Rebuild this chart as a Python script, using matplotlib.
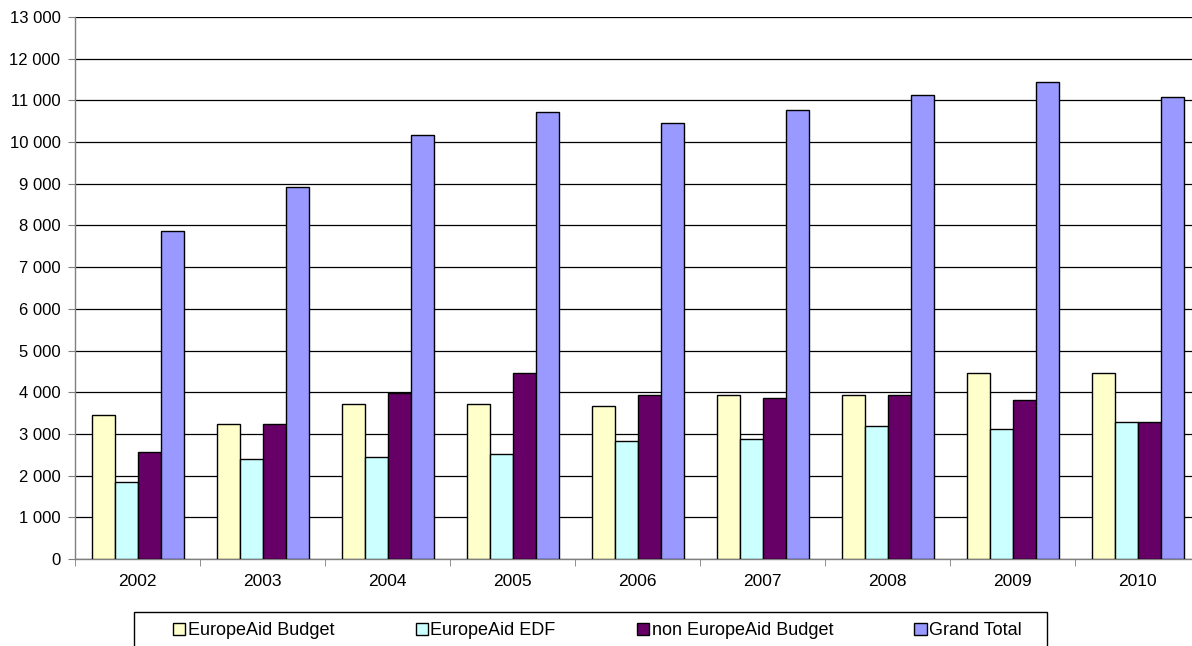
import matplotlib
matplotlib.use("Agg")
import matplotlib.pyplot as plt
import numpy as np
from matplotlib.ticker import FuncFormatter, FixedLocator
from matplotlib.patches import Rectangle

years = ["2002", "2003", "2004", "2005", "2006", "2007", "2008", "2009", "2010"]
europeaid_budget = [3460, 3250, 3720, 3710, 3670, 3940, 3940, 4460, 4460]
europeaid_edf = [1840, 2400, 2440, 2530, 2820, 2890, 3200, 3120, 3280]
non_europeaid_budget = [2560, 3250, 3970, 4470, 3940, 3870, 3940, 3810, 3280]
grand_total = [7870, 8920, 10180, 10720, 10450, 10760, 11120, 11440, 11080]

series_names = ["EuropeAid Budget", "EuropeAid EDF", "non EuropeAid Budget", "Grand Total"]
series_values = [europeaid_budget, europeaid_edf, non_europeaid_budget, grand_total]
colors = ["#FFFFCC", "#CCFFFF", "#660066", "#9999FF"]

plt.rcParams['font.family'] = ['Liberation Sans', 'DejaVu Sans']

fig = plt.figure(figsize=(11.92, 6.46), dpi=100)
left_px, right_px, top_px, bottom_px = 75, 1200, 17, 559
W, H = 1192, 646
ax = fig.add_axes([left_px / W, 1 - bottom_px / H, (right_px - left_px) / W, (bottom_px - top_px) / H])

x = np.arange(len(years))
bw = 0.184
for i, (name, vals, c) in enumerate(zip(series_names, series_values, colors)):
    ax.bar(x + (i - 1.5) * bw, vals, width=bw, color=c, edgecolor="black",
           linewidth=1.0, label=name, zorder=3)

ax.set_xlim(-0.5, len(years) - 0.5)
ax.set_ylim(0, 13000)
ax.set_yticks(np.arange(0, 13001, 1000))
ax.yaxis.set_major_formatter(FuncFormatter(lambda v, p: f"{int(v):,}".replace(",", " ")))
ax.yaxis.grid(True, color="black", linewidth=0.9, zorder=0)
ax.set_axisbelow(True)

ax.set_xticks(x)
ax.set_xticklabels(years)
ax.xaxis.set_minor_locator(FixedLocator(np.arange(-0.5, len(years), 1.0)))
ax.tick_params(axis="x", which="major", length=0, pad=11, labelsize=12.5)
ax.tick_params(axis="x", which="minor", length=5, color="#808080", direction="out")
ax.tick_params(axis="y", length=5, color="#808080", direction="out", labelsize=12, pad=5.5)

for s in ["top", "right"]:
    ax.spines[s].set_visible(False)
for s in ["left", "bottom"]:
    ax.spines[s].set_color("#808080")
    ax.spines[s].set_linewidth(1.0)

leg = fig.legend(loc="center", bbox_to_anchor=(597.5 / W, 1 - 630.5 / H), ncol=4,
                 frameon=False, fontsize=13,
                 handlelength=0.67, handleheight=0.67, handletextpad=0.15,
                 columnspacing=4.5, borderpad=0.0)

fig.patches.append(Rectangle((134 / W, 1 - 650 / H), (1047 - 134) / W, 38 / H,
                             transform=fig.transFigure, fill=False,
                             edgecolor="black", linewidth=1.0))

fig.savefig("out.png", dpi=100)
